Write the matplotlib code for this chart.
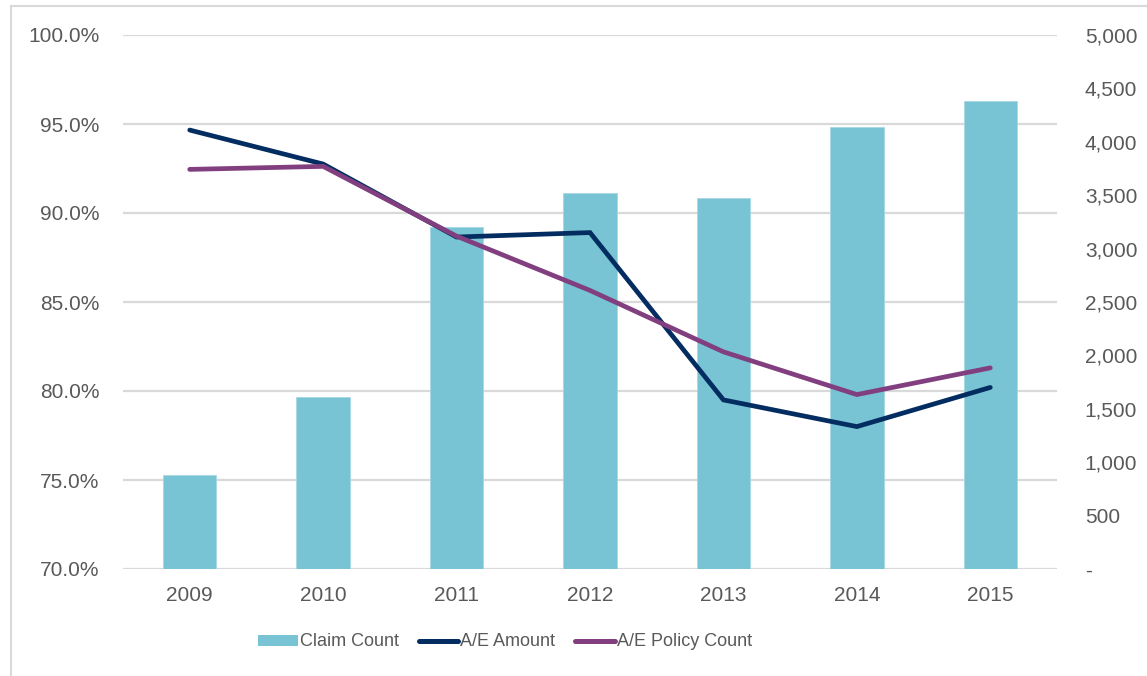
import matplotlib.pyplot as plt
from matplotlib.lines import Line2D
from matplotlib.patches import Patch
from matplotlib.ticker import FuncFormatter, MultipleLocator

# ---数据---
years = ['2009', '2010', '2011', '2012', '2013', '2014', '2015']
claim_count = [880, 1610, 3200, 3518, 3474, 4139, 4382]
ae_amount = [94.66, 92.75, 88.65, 88.9, 79.5, 78.0, 80.2]
ae_policy = [92.45, 92.62, 88.7, 85.65, 82.2, 79.8, 81.3]

bar_color = '#78C4D4'
amount_color = '#032D60'
policy_color = '#823F80'
grid_color = '#D9D9D9'
text_color = '#595959'

plt.rcParams['font.family'] = ['Liberation Sans', 'DejaVu Sans']

fig = plt.figure(figsize=(11.47, 6.76), dpi=100)
pos = [123/1147, 1-569/676, (1057-123)/1147, (569-35)/676]

# 百分比轴: 网格线和左侧刻度
ax = fig.add_axes(pos)
ax.set_zorder(1)
ax.set_ylim(70, 100)
ax.set_xlim(-0.5, len(years)-0.5)
ax.yaxis.set_major_locator(MultipleLocator(5))
ax.yaxis.set_major_formatter(FuncFormatter(lambda v, p: f'{v:.1f}%'))
ax.grid(axis='y', color=grid_color, linewidth=1.6)
ax.set_axisbelow(True)
ax.set_xticks(range(len(years)))
ax.set_xticklabels(years)
ax.tick_params(axis='both', length=0, labelsize=15, colors=text_color)
ax.tick_params(axis='y', pad=17)
ax.tick_params(axis='x', pad=12)
for s in ax.spines.values():
    s.set_visible(False)

# 柱状图: 右侧轴
ax2 = ax.twinx()
ax2.set_zorder(2)
ax2.patch.set_visible(False)
ax2.bar(range(len(years)), claim_count, width=0.4, color=bar_color,
        edgecolor='#A6D8E3', linewidth=0.6)
ax2.set_ylim(0, 5000)
ax2.yaxis.set_major_locator(MultipleLocator(500))
ax2.yaxis.set_major_formatter(FuncFormatter(lambda v, p: '-' if v == 0 else f'{v:,.0f}'))
ax2.tick_params(axis='y', length=0, labelsize=15, colors=text_color, pad=20)
for s in ax2.spines.values():
    s.set_visible(False)

# 折线: 最上层
ax3 = fig.add_axes(pos, sharex=ax, sharey=ax)
ax3.set_zorder(3)
ax3.patch.set_visible(False)
ax3.axis('off')
ax3.plot(range(len(years)), ae_amount, color=amount_color, linewidth=3.4,
         solid_capstyle='round', solid_joinstyle='miter')
ax3.plot(range(len(years)), ae_policy, color=policy_color, linewidth=3.4,
         solid_capstyle='round', solid_joinstyle='miter')

# 图例
handles = [Patch(facecolor=bar_color, edgecolor='none'),
           Line2D([], [], color=amount_color, linewidth=3.6, solid_capstyle='round'),
           Line2D([], [], color=policy_color, linewidth=3.6, solid_capstyle='round')]
labels = ['Claim Count', 'A/E Amount', 'A/E Policy Count']
leg = fig.legend(handles, labels, loc='center', bbox_to_anchor=(505/1147, 1-642/676),
                 ncol=3, frameon=False, handlelength=2.2, handleheight=0.55,
                 handletextpad=0.1, columnspacing=1.1, prop={'size': 13})
for t in leg.get_texts():
    t.set_color(text_color)

# 图表外框
fig.add_artist(Line2D([11/1147, 11/1147], [0, 1-5.5/676], color=grid_color, linewidth=1.5))
fig.add_artist(Line2D([11/1147, 1], [1-5.5/676, 1-5.5/676], color=grid_color, linewidth=1.5))

fig.savefig('out.png', dpi=100)
